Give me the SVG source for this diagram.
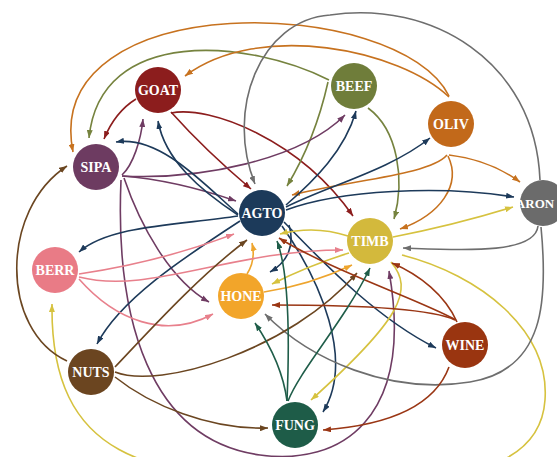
<svg xmlns="http://www.w3.org/2000/svg" width="557" height="457" viewBox="0 0 557 457">
<style>
.e{fill:none;stroke-width:1.6}
.n text{font-family:"Liberation Serif","Times New Roman",serif;font-weight:bold;font-size:14px;fill:#fff;text-anchor:middle;dominant-baseline:central}
.goat{stroke:#8c1d1d}.beef{stroke:#76833f}.oliv{stroke:#c7721f}.sipa{stroke:#6f3c63}.agto{stroke:#1d3a5a}
.timb{stroke:#d6c23f}.aron{stroke:#6e6e6e}.berr{stroke:#e8808c}.hone{stroke:#eea52e}.nuts{stroke:#6b4621}
.wine{stroke:#9a3614}.fung{stroke:#1f5d49}
</style>
<defs>
<marker id="m-goat" markerWidth="8" markerHeight="6" refX="8" refY="3" orient="auto" markerUnits="userSpaceOnUse"><path d="M0,0 L8,3 L0,6 z" fill="#8c1d1d"/></marker>
<marker id="m-beef" markerWidth="8" markerHeight="6" refX="8" refY="3" orient="auto" markerUnits="userSpaceOnUse"><path d="M0,0 L8,3 L0,6 z" fill="#76833f"/></marker>
<marker id="m-oliv" markerWidth="8" markerHeight="6" refX="8" refY="3" orient="auto" markerUnits="userSpaceOnUse"><path d="M0,0 L8,3 L0,6 z" fill="#c7721f"/></marker>
<marker id="m-sipa" markerWidth="8" markerHeight="6" refX="8" refY="3" orient="auto" markerUnits="userSpaceOnUse"><path d="M0,0 L8,3 L0,6 z" fill="#6f3c63"/></marker>
<marker id="m-agto" markerWidth="8" markerHeight="6" refX="8" refY="3" orient="auto" markerUnits="userSpaceOnUse"><path d="M0,0 L8,3 L0,6 z" fill="#1d3a5a"/></marker>
<marker id="m-timb" markerWidth="8" markerHeight="6" refX="8" refY="3" orient="auto" markerUnits="userSpaceOnUse"><path d="M0,0 L8,3 L0,6 z" fill="#d6c23f"/></marker>
<marker id="m-aron" markerWidth="8" markerHeight="6" refX="8" refY="3" orient="auto" markerUnits="userSpaceOnUse"><path d="M0,0 L8,3 L0,6 z" fill="#6e6e6e"/></marker>
<marker id="m-berr" markerWidth="8" markerHeight="6" refX="8" refY="3" orient="auto" markerUnits="userSpaceOnUse"><path d="M0,0 L8,3 L0,6 z" fill="#e8808c"/></marker>
<marker id="m-hone" markerWidth="8" markerHeight="6" refX="8" refY="3" orient="auto" markerUnits="userSpaceOnUse"><path d="M0,0 L8,3 L0,6 z" fill="#eea52e"/></marker>
<marker id="m-nuts" markerWidth="8" markerHeight="6" refX="8" refY="3" orient="auto" markerUnits="userSpaceOnUse"><path d="M0,0 L8,3 L0,6 z" fill="#6b4621"/></marker>
<marker id="m-wine" markerWidth="8" markerHeight="6" refX="8" refY="3" orient="auto" markerUnits="userSpaceOnUse"><path d="M0,0 L8,3 L0,6 z" fill="#9a3614"/></marker>
<marker id="m-fung" markerWidth="8" markerHeight="6" refX="8" refY="3" orient="auto" markerUnits="userSpaceOnUse"><path d="M0,0 L8,3 L0,6 z" fill="#1f5d49"/></marker>
</defs>
<rect width="557" height="457" fill="#fff"/>
<g id="connectors">
<!-- GOAT -->
<path class="e goat" marker-end="url(#m-goat)" d="M136,99 Q115,112 104,139"/>
<path class="e goat" marker-end="url(#m-goat)" d="M171,112 Q205,150 251,189"/>
<path class="e goat" marker-end="url(#m-goat)" d="M171,113 C210,105 300,140 353,216"/>
<!-- BEEF -->
<path class="e beef" marker-end="url(#m-beef)" d="M329,80 C250,40 100,25 89,138"/>
<path class="e beef" marker-end="url(#m-beef)" d="M328,82 Q315,140 287,186"/>
<path class="e beef" marker-end="url(#m-beef)" d="M368,108 C398,130 405,180 394,219"/>
<!-- OLIV -->
<path class="e oliv" marker-end="url(#m-oliv)" d="M449,97 C400,50 260,20 185,76"/>
<path class="e oliv" marker-end="url(#m-oliv)" d="M449,96 C400,-5 40,-15 73,152"/>
<path class="e oliv" marker-end="url(#m-oliv)" d="M447,155 C430,175 350,180 292,195"/>
<path class="e oliv" marker-end="url(#m-oliv)" d="M448,156 C462,185 440,215 400,229"/>
<path class="e oliv" marker-end="url(#m-oliv)" d="M449,155 Q490,160 520,182"/>
<!-- SIPA -->
<path class="e sipa" marker-end="url(#m-sipa)" d="M122,175 C133,165 141,140 143,119"/>
<path class="e sipa" marker-end="url(#m-sipa)" d="M122,176 Q175,180 236,201"/>
<path class="e sipa" marker-end="url(#m-sipa)" d="M122,176 C200,180 300,160 345,115"/>
<path class="e sipa" marker-end="url(#m-sipa)" d="M124,178 C140,225 170,280 209,302"/>
<path class="e sipa" marker-end="url(#m-sipa)" d="M121,180 C115,320 150,440 260,455 C340,466 415,420 389,271"/>
<!-- AGTO -->
<path class="e agto" marker-end="url(#m-agto)" d="M238,214 C205,185 160,135 116,142"/>
<path class="e agto" marker-end="url(#m-agto)" d="M238,215 C200,190 165,160 158,121"/>
<path class="e agto" marker-end="url(#m-agto)" d="M286,205 C315,180 345,150 356,111"/>
<path class="e agto" marker-end="url(#m-agto)" d="M286,207 C330,185 390,170 430,138"/>
<path class="e agto" marker-end="url(#m-agto)" d="M286,210 C340,190 440,185 514,197"/>
<path class="e agto" marker-end="url(#m-agto)" d="M238,216 C180,225 110,225 79,252"/>
<path class="e agto" marker-end="url(#m-agto)" d="M240,221 C180,260 120,300 97,344"/>
<path class="e agto" marker-end="url(#m-agto)" d="M289,225 C295,245 288,262 270,272"/>
<path class="e agto" marker-end="url(#m-agto)" d="M282,226 C320,280 355,360 323,412"/>
<path class="e agto" marker-end="url(#m-agto)" d="M284,222 C330,270 380,320 436,348"/>
<!-- HONE -->
<path class="e hone" marker-end="url(#m-hone)" d="M247,274 Q256,260 252,243"/>
<path class="e hone" marker-end="url(#m-hone)" d="M264,292 Q310,285 352,265"/>
<!-- TIMB -->
<path class="e timb" marker-end="url(#m-timb)" d="M348,236 Q315,225 280,234"/>
<path class="e timb" marker-end="url(#m-timb)" d="M349,253 Q310,265 272,284"/>
<path class="e timb" marker-end="url(#m-timb)" d="M393,237 Q455,225 513,207"/>
<path class="e timb" marker-end="url(#m-timb)" d="M391,262 C415,290 400,320 311,400"/>
<path class="e timb" marker-end="url(#m-timb)" d="M402,255 C480,275 550,330 545,400 C541,460 480,490 300,478 C150,478 50,460 52,304"/>
<!-- ARON -->
<path class="e aron" marker-end="url(#m-aron)" d="M540,180 C535,60 430,0 330,15 C260,20 225,110 255,184"/>
<path class="e aron" marker-end="url(#m-aron)" d="M538,226 C535,255 460,250 403,248"/>
<path class="e aron" marker-end="url(#m-aron)" d="M541,227 C548,300 545,370 470,382 C390,395 310,360 265,314"/>
<!-- BERR -->
<path class="e berr" marker-end="url(#m-berr)" d="M79,274 Q160,262 234,234"/>
<path class="e berr" marker-end="url(#m-berr)" d="M79,277 C150,295 230,250 343,250"/>
<path class="e berr" marker-end="url(#m-berr)" d="M79,279 C115,320 165,340 213,314"/>
<!-- NUTS -->
<path class="e nuts" marker-end="url(#m-nuts)" d="M67,361 C0,330 0,210 67,166"/>
<path class="e nuts" marker-end="url(#m-nuts)" d="M115,367 C150,330 200,275 247,240"/>
<path class="e nuts" marker-end="url(#m-nuts)" d="M115,372 C160,390 290,350 357,273"/>
<path class="e nuts" marker-end="url(#m-nuts)" d="M115,377 C150,405 210,430 268,428"/>
<!-- WINE -->
<path class="e wine" marker-end="url(#m-wine)" d="M457,322 C445,295 420,275 392,263"/>
<path class="e wine" marker-end="url(#m-wine)" d="M456,320 C420,300 330,270 279,238"/>
<path class="e wine" marker-end="url(#m-wine)" d="M455,320 C430,308 350,305 272,305"/>
<path class="e wine" marker-end="url(#m-wine)" d="M449,367 C435,405 390,425 323,430"/>
<!-- FUNG -->
<path class="e fung" marker-end="url(#m-fung)" d="M287,401 C283,370 270,345 255,323"/>
<path class="e fung" marker-end="url(#m-fung)" d="M287,401 C290,330 288,270 277,241"/>
<path class="e fung" marker-end="url(#m-fung)" d="M288,401 C300,370 345,320 370,268"/>
</g>
<g id="GOAT" class="n"><circle cx="158" cy="90" r="23" fill="#8c1d1d"/><text x="158" y="90">GOAT</text></g>
<g id="BEEF" class="n"><circle cx="354" cy="86" r="23" fill="#6f7d3a"/><text x="354" y="86">BEEF</text></g>
<g id="OLIV" class="n"><circle cx="451" cy="124" r="23" fill="#c2691a"/><text x="451" y="124">OLIV</text></g>
<g id="SIPA" class="n"><circle cx="96" cy="167" r="23" fill="#6d3b61"/><text x="96" y="167">SIPA</text></g>
<g id="AGTO" class="n"><circle cx="262" cy="213" r="23" fill="#1c3a5a"/><text x="262" y="213">AGTO</text></g>
<g id="TIMB" class="n"><circle cx="370" cy="241" r="23" fill="#d3b93c"/><text x="370" y="241">TIMB</text></g>
<g id="ARON" class="n"><circle cx="543" cy="203" r="23" fill="#6b6b6b"/><text x="535" y="203" style="font-size:13px">ARON</text></g>
<g id="BERR" class="n"><circle cx="55" cy="270" r="23" fill="#e97b86"/><text x="55" y="270">BERR</text></g>
<g id="HONE" class="n"><circle cx="241" cy="296" r="23" fill="#f2a52a"/><text x="241" y="296">HONE</text></g>
<g id="NUTS" class="n"><circle cx="91" cy="372" r="23" fill="#6b4520"/><text x="91" y="372">NUTS</text></g>
<g id="WINE" class="n"><circle cx="465" cy="345" r="23" fill="#9a3510"/><text x="465" y="345">WINE</text></g>
<g id="FUNG" class="n"><circle cx="295" cy="425" r="23" fill="#1e5c48"/><text x="295" y="425">FUNG</text></g>
</svg>
